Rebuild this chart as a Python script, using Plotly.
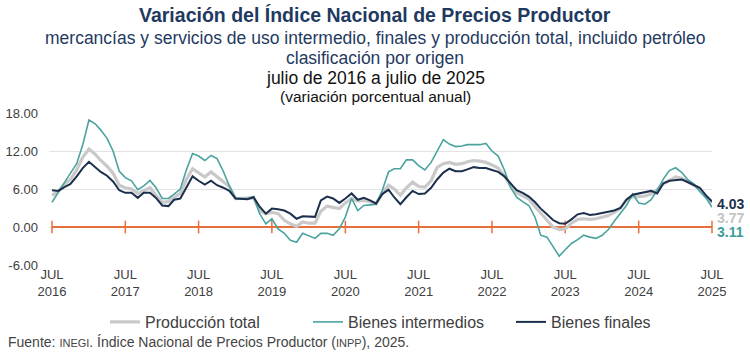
import pandas as pd
import plotly.graph_objects as go

months = pd.date_range("2016-07-01", "2025-07-01", freq="MS")

produccion_total = [
    5.0, 5.6, 6.8, 7.5, 9.0, 11.0, 12.3, 11.5, 10.5, 9.6, 8.5, 6.6,
    6.2, 6.0, 5.3, 5.8, 6.2, 5.0, 3.9, 4.0, 4.7, 5.3, 7.5, 9.2,
    8.6, 7.9, 8.7, 7.9, 7.2, 6.4, 4.5, 4.5, 4.5, 4.6, 2.6, 2.1,
    2.3, 2.1, 1.05, 0.5, 0.1, 0.8, 0.6, 0.6, 2.5, 3.3, 3.1, 2.9,
    3.8, 4.5, 4.1, 4.2, 4.0, 3.7, 5.3, 6.6, 6.0, 5.0, 6.2, 7.1,
    6.4, 6.3, 7.3, 9.4, 10.0, 10.2, 9.9, 10.0, 10.3, 10.5, 10.4, 10.2,
    9.8, 9.3, 8.1, 6.5, 5.4, 4.9, 4.4, 3.2, 2.2, 1.0, 0.0, -0.4,
    -0.3, 0.6, 1.2, 1.3, 1.2, 1.3, 1.6, 1.8, 2.3, 3.0, 4.3, 4.8,
    4.8, 4.9, 5.2, 5.9, 6.8, 7.3, 7.9, 7.7, 7.2, 6.6, 6.0, 4.8,
    3.77,
]

bienes_intermedios = [
    3.9, 5.5, 7.0, 8.5, 10.0, 13.0, 16.9, 16.3, 15.3, 14.0, 12.0, 8.8,
    7.8, 7.3, 5.9, 6.5, 7.35, 6.2, 4.5, 4.5, 5.2, 6.0, 9.0, 11.6,
    11.2, 10.5, 11.3, 10.8, 8.8, 6.5, 4.5, 4.5, 4.5, 4.8, 2.1, 0.5,
    1.3, -0.3, -1.0, -2.1, -2.4, -1.0, -1.4, -1.8, -1.0, -1.0, -1.3, -0.3,
    1.6, 4.5, 2.6, 3.4, 3.5, 3.6, 5.8, 8.7, 9.2, 9.2, 10.6, 10.6,
    9.7, 9.0, 10.2, 12.0, 13.8, 13.1, 12.7, 12.8, 13.0, 13.0, 13.0, 13.2,
    12.0, 11.2, 9.0, 6.3, 4.7, 4.0, 3.4, 1.5, -1.3, -1.6, -3.1, -4.6,
    -3.6, -2.6, -2.0, -1.3, -1.6, -1.8, -1.3, -0.4, 0.9, 2.1, 3.4, 5.2,
    3.8, 3.6, 4.3, 5.8, 7.6, 8.9, 9.35, 8.6, 7.5, 6.8, 5.6, 4.6,
    3.11,
]

bienes_finales = [
    5.8, 5.7, 6.3, 6.8, 8.0, 9.3, 10.3, 9.4, 8.7, 8.1, 7.2, 5.8,
    5.4, 5.4, 4.6, 5.4, 5.4, 4.6, 3.4, 3.3, 4.3, 4.5, 6.3, 8.0,
    7.3, 6.7, 7.3, 6.6, 6.2, 5.7, 4.5, 4.5, 4.4, 4.7, 3.2, 2.1,
    2.9, 2.8, 2.6, 2.1, 1.3, 1.7, 1.6, 1.6, 4.2, 4.8, 4.5, 3.8,
    4.5, 5.3, 4.3, 4.6, 4.2, 3.7, 5.2, 5.9, 4.7, 3.6, 4.7, 5.7,
    5.2, 5.3, 6.2, 7.5, 8.6, 9.2, 8.8, 8.8, 9.1, 9.45, 9.3, 9.3,
    9.0, 8.7, 8.0, 7.0, 5.8, 5.4, 4.8, 3.9, 2.9, 2.0, 1.1, 0.6,
    0.5, 1.2, 2.0, 2.2, 1.9, 2.0, 2.2, 2.4, 2.6, 3.0, 4.3, 5.1,
    5.3, 5.5, 5.7, 5.3, 6.9, 7.3, 7.4, 7.5, 7.1, 6.7, 6.2, 5.0,
    4.03,
]

y_ticks = [-6, 0, 6, 12, 18]
july_dates = [d for d in months if d.month == 7]
x_tick_text = ["JUL<br>%d" % d.year for d in july_dates]

C_TOTAL = "#C9C9C9"
C_INTER = "#4AA39F"
C_FINAL = "#1C2F4D"
C_ZERO = "#E56F3C"
C_TITLE = "#1F3A5F"
FONT = "Liberation Sans, Arial, sans-serif"

L, R, TOP, BOTTOM = 49, 712, 113, 265
W, H = R - L, BOTTOM - TOP

fig = go.Figure()

# zero reference line with July ticks
fig.add_trace(go.Scatter(
    x=july_dates, y=[0] * len(july_dates), mode="lines+markers",
    line=dict(color=C_ZERO, width=2),
    marker=dict(symbol="line-ns", size=9, line=dict(color=C_ZERO, width=1.5)),
    showlegend=False, hoverinfo="skip", cliponaxis=False,
))

fig.add_trace(go.Scatter(
    x=months, y=produccion_total, mode="lines", name="Producción total",
    line=dict(color=C_TOTAL, width=3.2),
))
fig.add_trace(go.Scatter(
    x=months, y=bienes_intermedios, mode="lines", name="Bienes intermedios",
    line=dict(color=C_INTER, width=1.6),
))
fig.add_trace(go.Scatter(
    x=months, y=bienes_finales, mode="lines", name="Bienes finales",
    line=dict(color=C_FINAL, width=2),
))

# end labels
for val, col, shift in [(bienes_finales[-1], C_FINAL, -3),
                        (produccion_total[-1], "#C4C4C4", -15),
                        (bienes_intermedios[-1], "#3E9C97", -25)]:
    fig.add_annotation(
        x=months[-1], y=val, xref="x", yref="y", text="<b>%.2f</b>" % val,
        showarrow=False, xanchor="left", yanchor="middle", xshift=3, yshift=shift,
        font=dict(family=FONT, size=14, color=col),
    )

title_lines = [
    ("<b>Variación del Índice Nacional de Precios Productor</b>", 19.5, C_TITLE, 15),
    ("mercancías y servicios de uso intermedio, finales y producción total, incluido petróleo", 17.5, C_TITLE, 38),
    ("clasificación por origen", 17.5, C_TITLE, 58),
    ("julio de 2016 a julio de 2025", 17.5, "#111111", 78),
    ("(variación porcentual anual)", 15.5, "#111111", 97),
]
for text, size, col, py in title_lines:
    fig.add_annotation(
        x=(375 - L) / W, xref="paper", xanchor="center",
        y=(BOTTOM - py) / H, yref="paper", yanchor="middle",
        text=text, showarrow=False,
        font=dict(family=FONT, size=size, color=col),
    )

fig.add_annotation(
    x=(6 - L) / W, xref="paper", xanchor="left",
    y=(BOTTOM - 342) / H, yref="paper", yanchor="middle",
    text="Fuente: <span style='font-size:11px'>INEGI</span>. Índice Nacional de Precios Productor (<span style='font-size:11px'>INPP</span>), 2025.",
    showarrow=False, font=dict(family=FONT, size=14, color="#444444"),
)

fig.update_layout(
    width=750, height=356,
    margin=dict(l=L, r=750 - R, t=TOP, b=356 - BOTTOM, pad=0, autoexpand=False),
    paper_bgcolor="white", plot_bgcolor="white",
    font=dict(family=FONT, size=13, color="#404040"),
    showlegend=True,
    legend=dict(
        orientation="h", x=(105 - L) / W, xanchor="left",
        y=(BOTTOM - 322) / H, yanchor="middle",
        font=dict(family=FONT, size=16, color="#404040"),
        bgcolor="rgba(0,0,0,0)", itemwidth=30, tracegroupgap=0,
        entrywidth=158, entrywidthmode="pixels",
    ),
    xaxis=dict(
        range=[pd.Timestamp("2016-06-16"), pd.Timestamp("2025-07-01")],
        tickvals=july_dates, ticktext=x_tick_text,
        showgrid=False, zeroline=False, showline=False, ticks="",
        automargin=False,
        tickfont=dict(family=FONT, size=13, color="#404040"),
    ),
    yaxis=dict(
        range=[-6, 18], tickvals=y_ticks,
        ticktext=["%.2f" % v for v in y_ticks],
        showgrid=True, gridcolor="#E3E3E3", gridwidth=1,
        zeroline=False, showline=False, ticks="",
        automargin=False, ticklabelstandoff=10,
        tickfont=dict(family=FONT, size=13, color="#404040"),
    ),
)

fig.write_html(
    "out.html",
    config={"displayModeBar": False},
    post_script="document.body.style.margin='0';document.body.style.overflow='hidden';",
)
